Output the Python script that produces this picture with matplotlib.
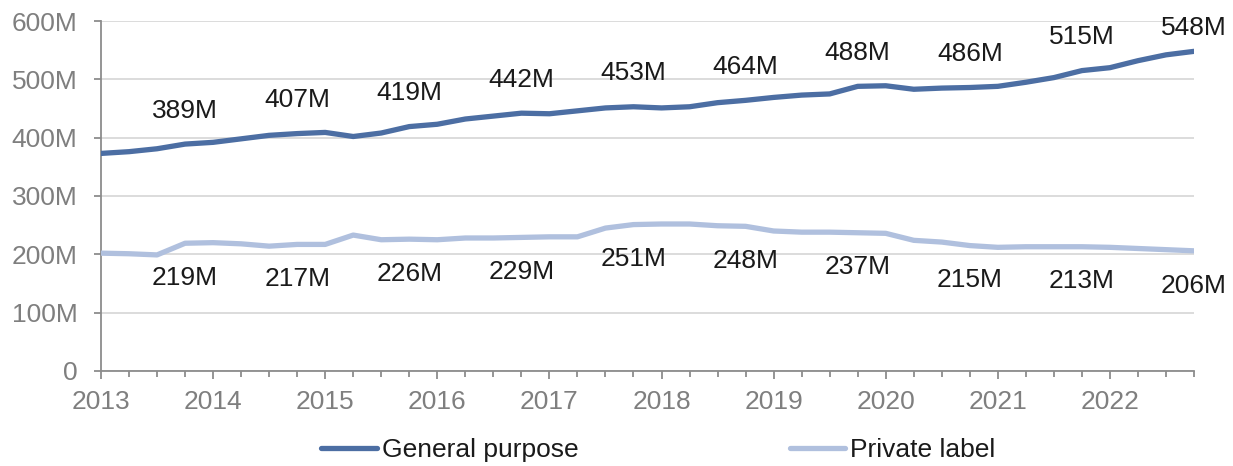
import numpy as np
import matplotlib
matplotlib.use("Agg")
import matplotlib.pyplot as plt
from matplotlib.ticker import FixedLocator, FuncFormatter

plt.rcParams['font.family'] = ['Liberation Sans', 'DejaVu Sans']

quarters = [f"{y}Q{q}" for y in range(2013, 2023) for q in range(1, 5)]
general_purpose = [373, 376, 381, 389, 392, 398, 404, 407, 409, 402, 408, 419,
                   423, 432, 437, 442, 441, 446, 451, 453, 451, 453, 460, 464,
                   469, 473, 475, 488, 489, 483, 485, 486, 488, 495, 503, 515,
                   520, 532, 542, 548]
private_label = [202, 201, 199, 219, 220, 218, 214, 217, 217, 233, 225, 226,
                 225, 228, 228, 229, 230, 230, 245, 251, 252, 252, 249, 248,
                 240, 238, 238, 237, 236, 224, 221, 215, 212, 213, 213, 213,
                 212, 210, 208, 206]
series_names = ["General purpose", "Private label"]
colors = ["#4C6EA3", "#B0C0DE"]
year_labels = [str(y) for y in range(2013, 2023)]
y_ticks = [0, 100, 200, 300, 400, 500, 600]

FS = 19

x = np.array([int(q[:4]) + (int(q[-1]) - 1) / 4 for q in quarters])

fig = plt.figure(figsize=(12.33, 4.66), dpi=100)
ax = fig.add_axes([0.0819, 0.2039, 0.9684 - 0.0819, 0.9549 - 0.2039])

l1, = ax.plot(x, general_purpose, color=colors[0], lw=3.8, solid_capstyle='round',
              solid_joinstyle='round', label=series_names[0], zorder=3)
l2, = ax.plot(x, private_label, color=colors[1], lw=3.8, solid_capstyle='round',
              solid_joinstyle='round', label=series_names[1], zorder=3)

ax.set_xlim(x[0], x[-1])
ax.set_ylim(0, 600)
ax.yaxis.set_major_locator(FixedLocator(y_ticks))
ax.yaxis.set_major_formatter(FuncFormatter(lambda v, p: "0" if v == 0 else f"{int(v)}M"))
ax.xaxis.set_major_locator(FixedLocator([float(y) for y in year_labels]))
ax.xaxis.set_minor_locator(FixedLocator(x))
ax.set_xticklabels(year_labels)

ax.grid(axis='y', color='#D9D9D9', lw=1.3, zorder=0)
for s in ['top', 'right']:
    ax.spines[s].set_visible(False)
for s in ['left', 'bottom']:
    ax.spines[s].set_color('#8C8C8C')
    ax.spines[s].set_linewidth(1.3)

ax.tick_params(axis='y', which='major', length=5, width=1.3, color='#8C8C8C',
               labelcolor='#7F7F7F', labelsize=FS, pad=12)
ax.tick_params(axis='x', which='major', length=6, width=1.3, color='#8C8C8C',
               labelcolor='#7F7F7F', labelsize=FS, pad=8)
ax.tick_params(axis='x', which='minor', length=4, width=1.3, color='#8C8C8C')

for i in range(3, len(x), 4):
    off = 24 if i != len(x) - 1 else 17
    ax.annotate(f"{general_purpose[i]}M", (x[i], general_purpose[i]),
                xytext=(0, off), textcoords='offset points', ha='center', va='center',
                fontsize=FS, color='#1A1A1A', annotation_clip=False)
    ax.annotate(f"{private_label[i]}M", (x[i], private_label[i]),
                xytext=(0, -25), textcoords='offset points', ha='center', va='center',
                fontsize=FS, color='#1A1A1A', annotation_clip=False)

fig.legend(handles=[l1, l2], loc='center', bbox_to_anchor=(0.534, 0.034), ncol=2,
           frameon=False, fontsize=FS, handlelength=2.1, handletextpad=0.19,
           columnspacing=8.0, labelcolor='#1A1A1A')

fig.savefig("out.png", dpi=100)
